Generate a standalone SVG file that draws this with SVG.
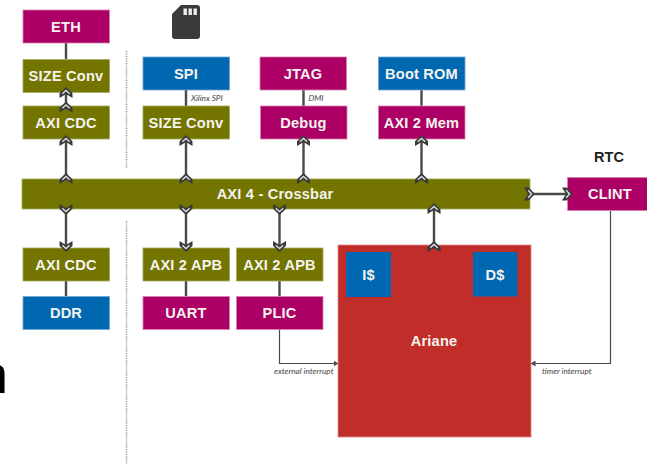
<svg xmlns="http://www.w3.org/2000/svg" width="647" height="464" viewBox="0 0 647 464">
<style>
text{font-family:"Liberation Sans",Arial,sans-serif}
.t{font-weight:700;font-size:14.6px;fill:#f4f4ee;text-anchor:middle;letter-spacing:.2px}
.l{font-family:"Lato","Liberation Sans",sans-serif;font-style:italic;font-size:8.200px;fill:#444}
.o{fill:#737500;stroke:#a8aa60;stroke-width:.8}
.m{fill:#ac0066;stroke:#d680b2;stroke-width:.8}
.b{fill:#0067b1;stroke:#70a8d4;stroke-width:.8}
.r{fill:#c12d28;stroke:#dc8a86;stroke-width:.8}
.c{stroke:#4a4a4a;stroke-width:2.400;fill:none}
.f{stroke:#4a4a4a;stroke-width:1.200;fill:none}
.d{stroke:#9c9c9c;stroke-width:1.600;stroke-dasharray:1.200 1.200;fill:none}
</style>
<defs>
<g id="ch">
<path d="M-6.500 5.500V.8L0-5.500L6.500 .8V5.500L0 1.500Z" fill="#3a3a3a"/>
<path d="M-3.700 1.300L0-2.100L3.700 1.300" fill="none" stroke="#dedede" stroke-width="1.400"/>
</g>
<marker id="tip" markerWidth="5" markerHeight="6" refX="4.500" refY="3" orient="auto" markerUnits="userSpaceOnUse"><path d="M0 0L5 3L0 6Z" fill="#4a4a4a"/></marker>
</defs>
<path class="d" d="M126.500 51V168M126.500 221V464"/>
<g id="connectors">
<path class="c" d="M66 43V59M66 92V106M66 139V179M186 90V106M186 139V179M66 209V248M186 209V248M279.500 209V248M66 281V296M186 281V296M279.500 281V296M303.500 90V106M303.500 139V179M421.500 90V106M421.500 139V179M434 209V245M530 194H567"/>
<path class="f" d="M279.500 329V363.500H338" marker-end="url(#tip)"/>
<path class="f" d="M610.500 211V363.500H531" marker-end="url(#tip)"/>
</g>
<g id="eth"><rect class="m" x="23" y="10" width="86.500" height="33"/><text class="t" x="66" y="31.700">ETH</text></g>
<g id="size1"><rect class="o" x="23" y="59.500" width="86.500" height="33"/><text class="t" x="66" y="81">SIZE Conv</text></g>
<g id="cdc1"><rect class="o" x="23" y="106" width="86.500" height="33"/><text class="t" x="66" y="128">AXI CDC</text></g>
<g id="spi"><rect class="b" x="143" y="57" width="86.500" height="33"/><text class="t" x="186" y="78.700">SPI</text></g>
<g id="size2"><rect class="o" x="143" y="106" width="86.500" height="33"/><text class="t" x="186" y="128">SIZE Conv</text></g>
<g id="jtag"><rect class="m" x="260" y="57" width="86.500" height="33"/><text class="t" x="303" y="78.700">JTAG</text></g>
<g id="debug"><rect class="m" x="260.500" y="106" width="86.500" height="33"/><text class="t" x="303.500" y="128">Debug</text></g>
<g id="bootrom"><rect class="b" x="378.500" y="57" width="86.500" height="33"/><text class="t" x="421.500" y="78.700">Boot ROM</text></g>
<g id="axi2mem"><rect class="m" x="378.500" y="106" width="86.500" height="33"/><text class="t" x="421.500" y="128">AXI 2 Mem</text></g>
<g id="crossbar"><rect class="o" x="22" y="179" width="508" height="30"/><text class="t" x="275" y="199">AXI 4 - Crossbar</text></g>
<g id="clint"><rect class="m" x="567.500" y="177.500" width="80" height="33"/><text class="t" x="610" y="199.300">CLINT</text></g>
<text id="rtc" x="609" y="162" text-anchor="middle" font-weight="700" font-size="14.500" fill="#222">RTC</text>
<g id="cdc2"><rect class="o" x="23" y="248" width="86.500" height="33"/><text class="t" x="66" y="270">AXI CDC</text></g>
<g id="ddr"><rect class="b" x="23" y="296.500" width="86.500" height="33"/><text class="t" x="66" y="318">DDR</text></g>
<g id="apb1"><rect class="o" x="143" y="248" width="86.500" height="33"/><text class="t" x="186" y="270">AXI 2 APB</text></g>
<g id="uart"><rect class="m" x="143" y="296.500" width="86.500" height="33"/><text class="t" x="186" y="318">UART</text></g>
<g id="apb2"><rect class="o" x="236.500" y="248" width="86.500" height="33"/><text class="t" x="279.500" y="270">AXI 2 APB</text></g>
<g id="plic"><rect class="m" x="236.500" y="296.500" width="86.500" height="33"/><text class="t" x="279.500" y="318">PLIC</text></g>
<g id="ariane"><rect class="r" x="338" y="245" width="193" height="192"/><text class="t" x="434" y="345.500">Ariane</text></g>
<g id="icache"><rect x="346" y="252" width="45" height="45" fill="#0067b1"/><text class="t" x="368.500" y="279.500">I$</text></g>
<g id="dcache"><rect x="473" y="252" width="44.500" height="44.500" fill="#0067b1"/><text class="t" x="495" y="279.500">D$</text></g>
<g id="sdcard"><path d="M181 5H197Q200 5 200 8V36Q200 39 197 39H175Q172 39 172 36V14Z" fill="#3a3a3a"/><path d="M183.500 8.500h3.400v6.500h-3.400zM188.500 8.500h3.400v6.500h-3.400zM193.500 8.500h3.400v6.500h-3.400z" fill="#eee"/></g>
<g id="chevrons">
<use href="#ch" x="66" y="92.500"/><use href="#ch" x="66" y="107"/><use href="#ch" x="66" y="140.500"/><use href="#ch" x="66" y="178.500"/>
<use href="#ch" x="186" y="140.500"/><use href="#ch" x="186" y="178.500"/>
<use href="#ch" x="303.500" y="140.500"/><use href="#ch" x="303.500" y="178.500"/>
<use href="#ch" x="421.500" y="140.500"/><use href="#ch" x="421.500" y="178.500"/>
<use href="#ch" x="434" y="208.500"/><use href="#ch" x="434" y="246.500"/>
<use href="#ch" transform="translate(66 209.500) rotate(180)"/><use href="#ch" transform="translate(66 246.500) rotate(180)"/>
<use href="#ch" transform="translate(186 209.500) rotate(180)"/><use href="#ch" transform="translate(186 246.500) rotate(180)"/>
<use href="#ch" transform="translate(279.500 209.500) rotate(180)"/><use href="#ch" transform="translate(279.500 246.500) rotate(180)"/>
<use href="#ch" transform="translate(529.500 194) rotate(90)"/><use href="#ch" transform="translate(567.500 194) rotate(90)"/>
</g>
<text class="l" x="191" y="100.500">Xilinx SPI</text>
<text class="l" x="308.500" y="100.500">DMI</text>
<text class="l" x="274" y="374">external interrupt</text>
<text class="l" x="542" y="374">timer interrupt</text>
<text x="-22" y="393" font-size="54" fill="#000">n</text>
</svg>
